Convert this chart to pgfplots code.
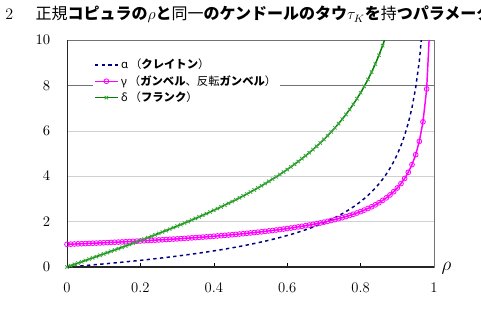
\documentclass[border=0pt]{standalone}
\usepackage{pgfplots}
\pgfplotsset{compat=1.18}
\usepackage{fontspec}
\newfontfamily\cjk{Noto Sans CJK JP}
\newfontfamily\grk{Noto Sans}
\newcommand{\kb}[1]{{\cjk\bfseries #1}}
\definecolor{navyc}{RGB}{0,0,128}
\definecolor{magc}{RGB}{255,0,255}
\definecolor{grnc}{RGB}{0,128,0}
\definecolor{grnm}{RGB}{60,170,60}
\begin{document}
\begin{tikzpicture}
\useasboundingbox (0,0) rectangle (360.75pt,234pt);
\node[anchor=west, inner sep=0pt] at (3.75pt,223pt) {\fontsize{12}{14}\selectfont 2\hspace{1.4em}{\cjk 正規}\kb{コピュラの}$\rho$\kb{と}{\cjk 同一}\kb{のケンドールのタウ}$\tau_K$\kb{を}{\cjk 持}\kb{つパラメータ}};
\begin{axis}[
  at={(50.25pt,33.75pt)}, anchor=south west,
  width=275.25pt, height=170.25pt, scale only axis,
  xmin=0, xmax=1, ymin=0, ymax=10,
  xtick={0,0.2,0.4,0.6,0.8,1},
  xticklabels={0,0.2,0.4,0.6,0.8,1},
  ytick={0,2,4,6,8,10},
  ymajorgrids, grid style={black!18},
  axis line style={black!55},
  xtick pos=bottom, ytick pos=left,
  tick align=inside, major tick length=3pt,
  ytick style={draw=none},
  tick style={black},
  ticklabel style={font=\fontsize{11}{13}\selectfont},
  xticklabel style={yshift=-8pt},
  yticklabel style={xshift=-9pt},
  legend cell align=left,
  legend style={at={(0.07,0.935)}, anchor=north west, draw=none, fill=white,
    inner sep=1pt, font=\fontsize{8.5}{11}\selectfont, row sep=-0.5pt},
]
\draw[black!55, line width=0.6pt] (axis cs:0,8) -- (axis cs:1,8);
\addplot[navyc, line width=1.1pt, dash pattern=on 2.5pt off 2.5pt] coordinates {
(0,0)(0.01,0.0128)(0.02,0.0258)(0.03,0.0389)(0.04,0.0523)(0.05,0.0658)(0.06,0.0795)(0.07,0.0934)(0.08,0.1074)(0.09,0.1217)(0.10,0.1362)(0.11,0.1509)(0.12,0.1659)(0.13,0.1810)(0.14,0.1964)(0.15,0.2120)(0.16,0.2279)(0.17,0.2441)(0.18,0.2604)(0.19,0.2771)(0.20,0.2941)(0.21,0.3113)(0.22,0.3289)(0.23,0.3467)(0.24,0.3649)(0.25,0.3834)(0.26,0.4022)(0.27,0.4214)(0.28,0.4410)(0.29,0.4610)(0.30,0.4813)(0.31,0.5021)(0.32,0.5232)(0.33,0.5448)(0.34,0.5669)(0.35,0.5894)(0.36,0.6125)(0.37,0.6360)(0.38,0.6601)(0.39,0.6847)(0.40,0.7100)(0.41,0.7358)(0.42,0.7622)(0.43,0.7893)(0.44,0.8171)(0.45,0.8456)(0.46,0.8748)(0.47,0.9048)(0.48,0.9357)(0.49,0.9674)(0.50,1.0)(0.51,1.0336)(0.52,1.0681)(0.53,1.1037)(0.54,1.1405)(0.55,1.1784)(0.56,1.2175)(0.57,1.2579)(0.58,1.2998)(0.59,1.3431)(0.60,1.3879)(0.61,1.4344)(0.62,1.4827)(0.63,1.5329)(0.64,1.5851)(0.65,1.6394)(0.66,1.6961)(0.67,1.7553)(0.68,1.8171)(0.69,1.8818)(0.70,1.9497)(0.71,2.0210)(0.72,2.0960)(0.73,2.1750)(0.74,2.2585)(0.75,2.3468)(0.76,2.4405)(0.77,2.5402)(0.78,2.6464)(0.79,2.7601)(0.80,2.8821)(0.81,3.0134)(0.82,3.1553)(0.83,3.3095)(0.84,3.4778)(0.85,3.6625)(0.86,3.8664)(0.87,4.0931)(0.88,4.3475)(0.89,4.6355)(0.90,4.9654)(0.91,5.3485)(0.92,5.8008)(0.93,6.3458)(0.94,7.0199)(0.95,7.8929)(0.96,9.0700)(0.97,10.793)
};
\addlegendentry{{\grk α}\,{\cjk （}\kb{クレイトン}{\cjk ）}}
\addplot[magc, line width=1.1pt, mark=o, mark size=1.8pt, mark options={solid, line width=0.6pt}] coordinates {
(0,1)(0.01,1.0064)(0.02,1.0129)(0.03,1.0195)(0.04,1.0261)(0.05,1.0329)(0.06,1.0397)(0.07,1.0467)(0.08,1.0537)(0.09,1.0609)(0.10,1.0681)(0.11,1.0755)(0.12,1.0829)(0.13,1.0905)(0.14,1.0982)(0.15,1.1060)(0.16,1.1140)(0.17,1.1220)(0.18,1.1302)(0.19,1.1386)(0.20,1.1470)(0.21,1.1557)(0.22,1.1644)(0.23,1.1734)(0.24,1.1824)(0.25,1.1917)(0.26,1.2011)(0.27,1.2107)(0.28,1.2205)(0.29,1.2305)(0.30,1.2407)(0.31,1.2510)(0.32,1.2616)(0.33,1.2724)(0.34,1.2835)(0.35,1.2947)(0.36,1.3062)(0.37,1.3180)(0.38,1.3301)(0.39,1.3424)(0.40,1.3550)(0.41,1.3679)(0.42,1.3811)(0.43,1.3947)(0.44,1.4085)(0.45,1.4228)(0.46,1.4374)(0.47,1.4524)(0.48,1.4678)(0.49,1.4837)(0.50,1.5)(0.51,1.5168)(0.52,1.5341)(0.53,1.5519)(0.54,1.5702)(0.55,1.5892)(0.56,1.6087)(0.57,1.6290)(0.58,1.6499)(0.59,1.6715)(0.60,1.6940)(0.61,1.7172)(0.62,1.7414)(0.63,1.7664)(0.64,1.7925)(0.65,1.8197)(0.66,1.8481)(0.67,1.8776)(0.68,1.9086)(0.69,1.9409)(0.70,1.9749)(0.71,2.0105)(0.72,2.0480)(0.73,2.0875)(0.74,2.1292)(0.75,2.1734)(0.76,2.2203)(0.77,2.2701)(0.78,2.3232)(0.79,2.3800)(0.80,2.4410)(0.81,2.5067)(0.82,2.5777)(0.83,2.6548)(0.84,2.7389)(0.85,2.8312)(0.86,2.9332)(0.87,3.0466)(0.88,3.1738)(0.89,3.3178)(0.90,3.4827)(0.91,3.6743)(0.92,3.9004)(0.93,4.1729)(0.94,4.5099)(0.95,4.9465)(0.96,5.5350)(0.97,6.3966)(0.98,7.8408)(0.99,11.098)
};
\addlegendentry{{\grk γ}\,{\cjk （}\kb{ガンベル}{\cjk 、反転}\kb{ガンベル}{\cjk ）}}
\addplot[grnc, line width=1.1pt, mark=x, mark size=1.8pt, mark options={solid, grnm, line width=0.6pt}] coordinates {
(0,0)(0.01,0.0573)(0.02,0.1146)(0.03,0.1720)(0.04,0.2294)(0.05,0.2868)(0.06,0.3444)(0.07,0.4020)(0.08,0.4598)(0.09,0.5177)(0.10,0.5758)(0.11,0.6341)(0.12,0.6925)(0.13,0.7512)(0.14,0.8100)(0.15,0.8692)(0.16,0.9286)(0.17,0.9883)(0.18,1.0483)(0.19,1.1086)(0.20,1.1693)(0.21,1.2304)(0.22,1.2919)(0.23,1.3538)(0.24,1.4161)(0.25,1.4789)(0.26,1.5423)(0.27,1.6061)(0.28,1.6705)(0.29,1.7355)(0.30,1.8012)(0.31,1.8674)(0.32,1.9344)(0.33,2.0021)(0.34,2.0705)(0.35,2.1397)(0.36,2.2097)(0.37,2.2807)(0.38,2.3525)(0.39,2.4253)(0.40,2.4991)(0.41,2.5740)(0.42,2.6500)(0.43,2.7272)(0.44,2.8056)(0.45,2.8852)(0.46,2.9663)(0.47,3.0488)(0.48,3.1329)(0.49,3.2185)(0.50,3.3058)(0.51,3.3949)(0.52,3.4858)(0.53,3.5788)(0.54,3.6738)(0.55,3.7710)(0.56,3.8707)(0.57,3.9728)(0.58,4.0776)(0.59,4.1851)(0.60,4.2957)(0.61,4.4095)(0.62,4.5268)(0.63,4.6476)(0.64,4.7724)(0.65,4.9014)(0.66,5.0349)(0.67,5.1733)(0.68,5.3170)(0.69,5.4663)(0.70,5.6218)(0.71,5.7839)(0.72,5.9534)(0.73,6.1308)(0.74,6.3170)(0.75,6.5128)(0.76,6.7192)(0.77,6.9374)(0.78,7.1687)(0.79,7.4146)(0.80,7.6770)(0.81,7.9582)(0.82,8.2605)(0.83,8.5871)(0.84,8.9418)(0.85,9.3292)(0.86,9.7551)(0.87,10.2267)
};
\addlegendentry{{\grk δ}\,{\cjk （}\kb{フランク}{\cjk ）}}
\draw[black!85, line width=0.8pt] (rel axis cs:0,1) -- (rel axis cs:0,0) -- (rel axis cs:1,0);
\end{axis}
\node[anchor=west, inner sep=0pt] at (331pt,33pt) {\fontsize{15}{17}\selectfont $\rho$};
\end{tikzpicture}
\end{document}
